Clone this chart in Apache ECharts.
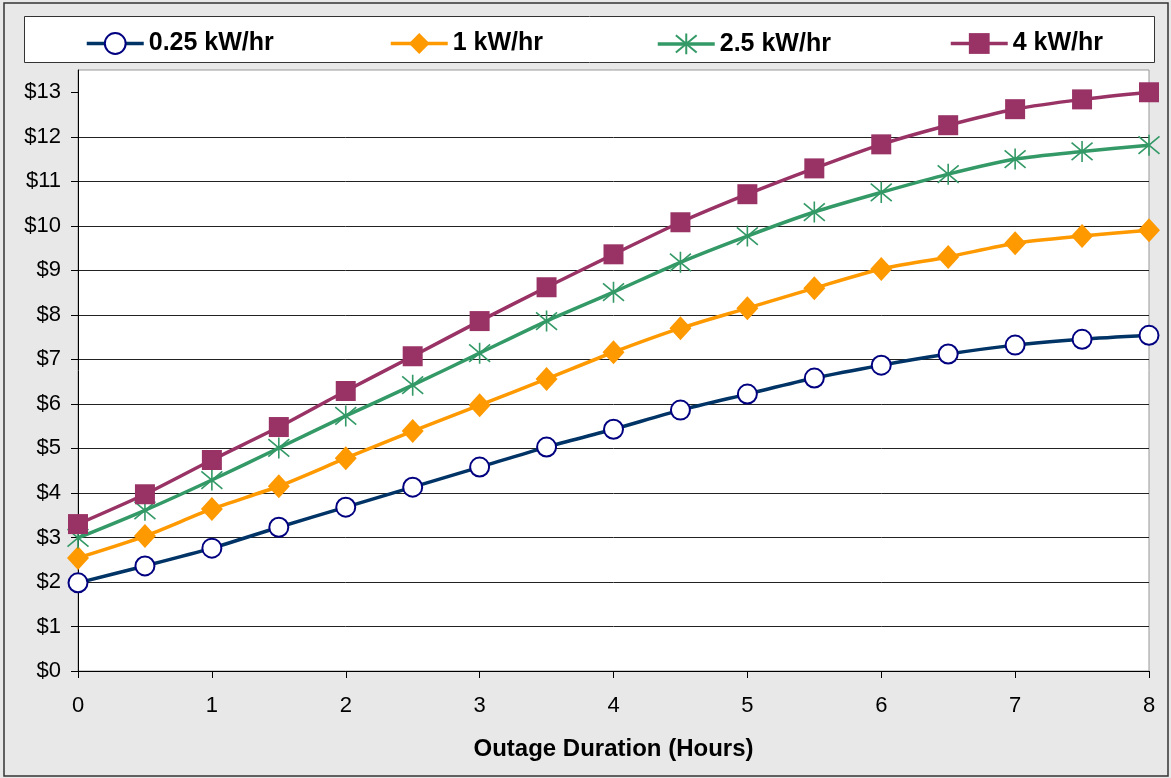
<!DOCTYPE html>
<html><head><meta charset="utf-8">
<script src="https://cdn.jsdelivr.net/npm/echarts@6/dist/echarts.min.js"></script>
<style>html,body{margin:0;padding:0;background:#e8e8e8}#c{width:1171px;height:778px}</style>
</head><body><div id="c"></div>
<script>
const hours = [0,0.5,1,1.5,2,2.5,3,3.5,4,4.5,5,5.5,6,6.5,7,7.5,8];
const seriesNames = ['0.25 kW/hr','1 kW/hr','2.5 kW/hr','4 kW/hr'];
const cost025 = [1.98,2.36,2.76,3.23,3.68,4.13,4.58,5.03,5.43,5.86,6.22,6.58,6.87,7.12,7.32,7.45,7.54];
const cost1   = [2.54,3.03,3.64,4.15,4.78,5.39,5.97,6.56,7.16,7.70,8.15,8.60,9.03,9.30,9.61,9.77,9.90];
const cost25  = [2.99,3.61,4.29,5.01,5.73,6.42,7.14,7.86,8.51,9.18,9.77,10.31,10.75,11.16,11.50,11.67,11.81];
const cost4   = [3.30,3.97,4.74,5.48,6.29,7.07,7.86,8.62,9.36,10.08,10.71,11.29,11.83,12.26,12.62,12.84,13.00];
const xTicks = [0,1,2,3,4,5,6,7,8];
const yTicks = [0,1,2,3,4,5,6,7,8,9,10,11,12,13];

const pairs = v => hours.map((h,i)=>[h,v[i]]);
const font = '"Liberation Sans", Arial, sans-serif';
const chart = echarts.init(document.getElementById('c'), null, {renderer:'canvas'});
const legendPos = [80,384,651,944];
chart.setOption({
  backgroundColor:'#e8e8e8',
  animation:false,
  graphic:[
    {type:'rect',shape:{x:4,y:3,width:1164,height:773},style:{fill:'none',stroke:'#333',lineWidth:1.5},z:-1},
    {type:'rect',shape:{x:24.5,y:16.5,width:1130,height:46},style:{fill:'#fff',stroke:'#333',lineWidth:1},z:-1}
  ],
  legend: seriesNames.map((n,i)=>({
    data:[n], left:legendPos[i], top:26, itemWidth:57, itemHeight:26, itemGap:6,
    lineStyle:{width:3.5},
    textStyle:{fontFamily:font,fontSize:25,fontWeight:'bold',color:'#000'}
  })),
  grid:{left:78,right:22,top:70,bottom:107,show:true,backgroundColor:'#fff',borderColor:'#999',borderWidth:1},
  xAxis:{type:'value',min:0,max:8,interval:1,
    name:'Outage Duration (Hours)',nameLocation:'middle',nameGap:66,
    nameTextStyle:{fontFamily:font,fontSize:24,fontWeight:'bold',color:'#000'},
    axisLine:{lineStyle:{color:'#000',width:1}},
    axisTick:{show:true,length:7,lineStyle:{color:'#000'}},
    axisLabel:{fontFamily:font,fontSize:22,color:'#000',margin:24,
      formatter:v=>xTicks.includes(v)?String(v):''},
    splitLine:{show:false}},
  yAxis:{type:'value',min:0,max:13.5,interval:1,
    axisLine:{show:true,lineStyle:{color:'#000',width:1}},
    axisTick:{show:true,length:7,lineStyle:{color:'#000'},customValues:yTicks},
    axisLabel:{fontFamily:font,fontSize:22,color:'#000',margin:17,customValues:yTicks,
      formatter:v=>'$'+v},
    splitLine:{show:true,showMaxLine:false,lineStyle:{color:'#222',width:1}}},
  series:[
    {name:seriesNames[0],type:'line',data:pairs(cost025),smooth:0.25,
     symbol:'circle',symbolSize:19,
     lineStyle:{color:'#003366',width:3.5},
     itemStyle:{color:'#fff',borderColor:'#000080',borderWidth:2}},
    {name:seriesNames[1],type:'line',data:pairs(cost1),smooth:0.25,
     symbol:'diamond',symbolSize:[22,24],
     lineStyle:{color:'#FF9900',width:3.5},
     itemStyle:{color:'#FF9900',borderWidth:0}},
    {name:seriesNames[2],type:'line',data:pairs(cost25),smooth:0.25,
     symbol:'path://M0,0L20,20M20,0L0,20M10,-2L10,22',symbolSize:21,
     lineStyle:{color:'#339966',width:3.5},
     itemStyle:{color:'none',borderColor:'#339966',borderWidth:1.6}},
    {name:seriesNames[3],type:'line',data:pairs(cost4),smooth:0.25,
     symbol:'rect',symbolSize:20,
     lineStyle:{color:'#993366',width:3.5},
     itemStyle:{color:'#993366',borderWidth:0}}
  ]
});
</script></body></html>
